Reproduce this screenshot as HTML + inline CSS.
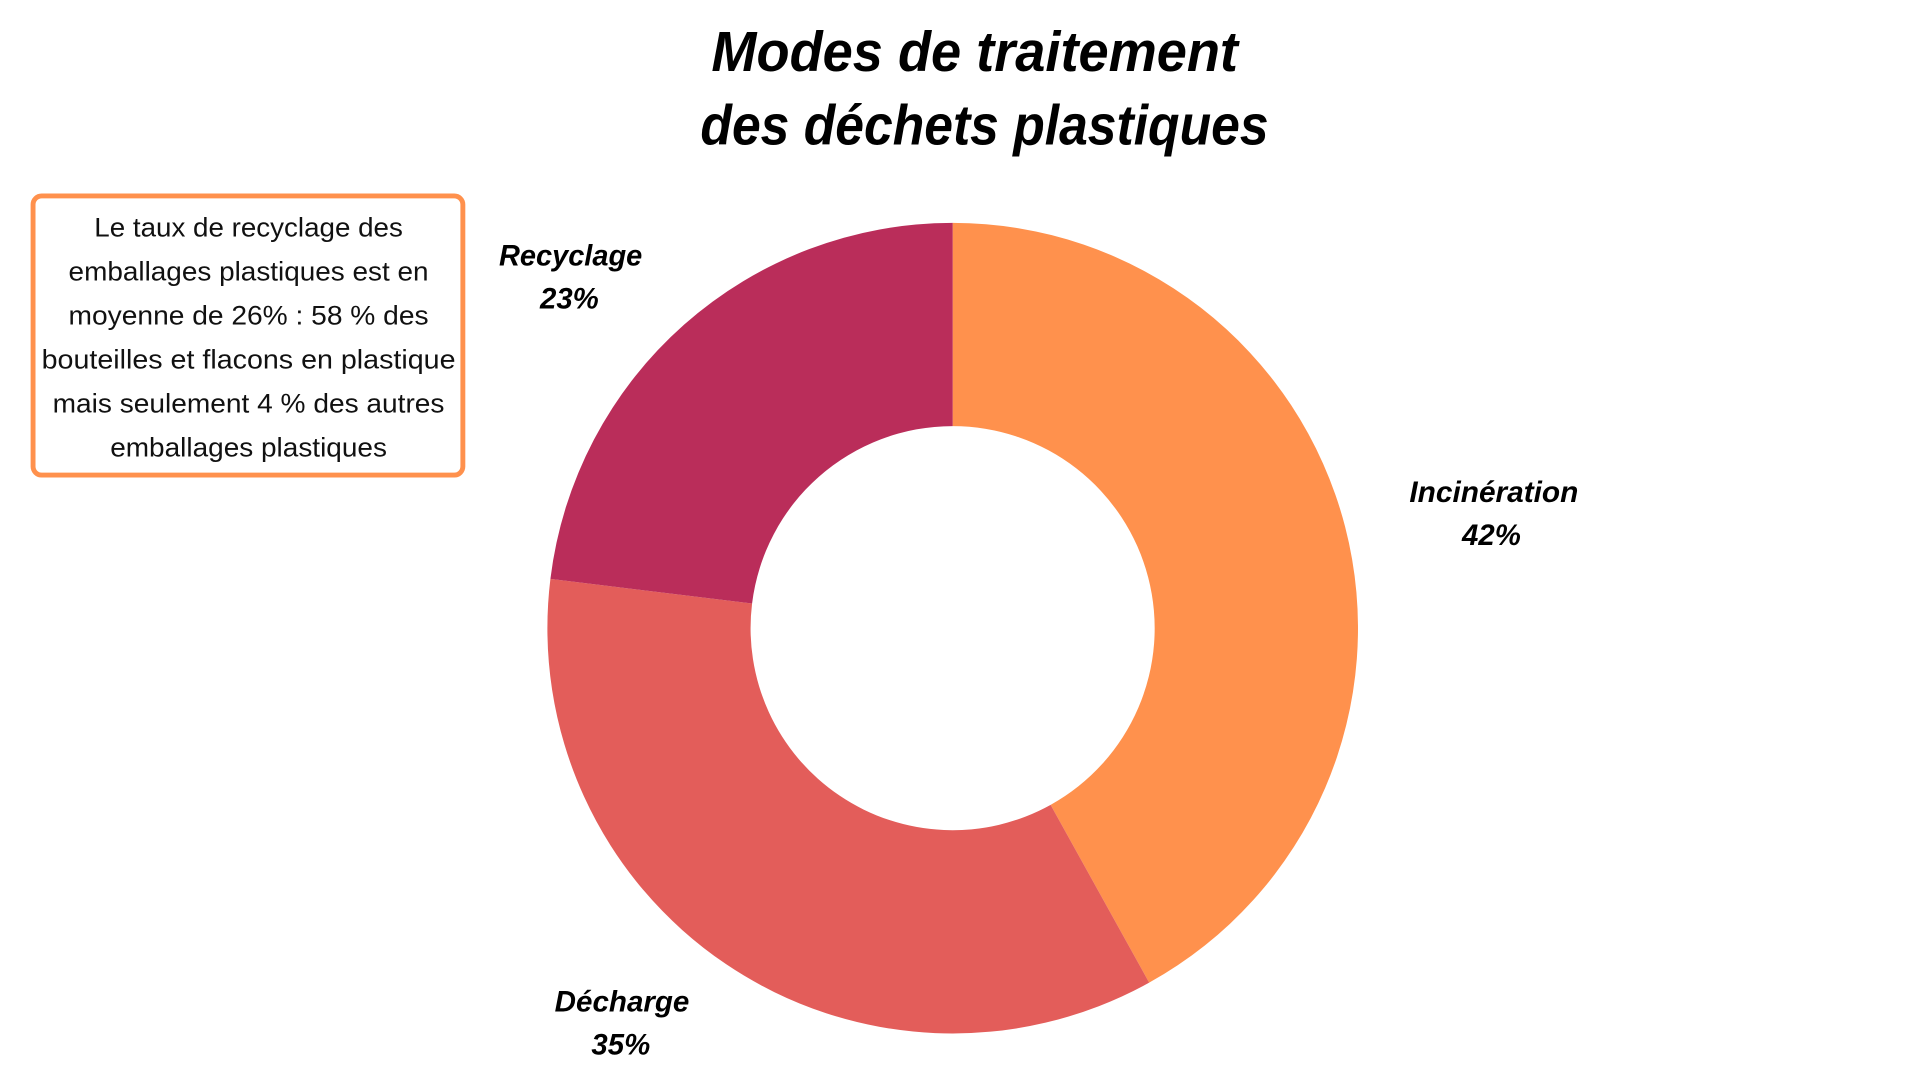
<!DOCTYPE html>
<html><head><meta charset="utf-8"><style>
html,body{margin:0;padding:0;background:#fff;width:1920px;height:1080px;overflow:hidden}
svg{display:block}
.t{font-family:"Liberation Sans",sans-serif;font-weight:bold;font-style:italic;fill:#000}
.b{font-family:"Liberation Sans",sans-serif;fill:#111;font-size:22px}
</style></head><body>
<svg width="1920" height="1080" viewBox="0 0 1568 882" xmlns="http://www.w3.org/2000/svg">
<rect width="1568" height="882" fill="#fff"/>
<text class="t" x="796" y="58" font-size="46" text-anchor="middle" textLength="430" lengthAdjust="spacingAndGlyphs">Modes de traitement</text>
<text class="t" x="804" y="118" font-size="46" text-anchor="middle" textLength="464" lengthAdjust="spacingAndGlyphs">des déchets plastiques</text>
<path d="M778 182 A331 331 0 0 1 938.5 802.5 L858 657.3 A165 165 0 0 0 778 348 Z" fill="#FF914D"/>
<path d="M938.5 802.5 A331 331 0 0 1 449.5 472.7 L614.2 492.9 A165 165 0 0 0 858 657.3 Z" fill="#E35D5A"/>
<path d="M449.5 472.7 A331 331 0 0 1 778 182 L778 348 A165 165 0 0 0 614.2 492.9 Z" fill="#BA2D5A"/>
<rect x="27" y="160" width="351" height="228" rx="7" fill="#fff" stroke="#FF914D" stroke-width="4"/>
<g class="b" text-anchor="middle">
<text x="203" y="193" textLength="252" lengthAdjust="spacingAndGlyphs">Le taux de recyclage des</text>
<text x="203" y="229" textLength="294" lengthAdjust="spacingAndGlyphs">emballages plastiques est en</text>
<text x="203" y="265" textLength="294" lengthAdjust="spacingAndGlyphs">moyenne de 26% : 58 % des</text>
<text x="203" y="301" textLength="338" lengthAdjust="spacingAndGlyphs">bouteilles et flacons en plastique</text>
<text x="203" y="337" textLength="320" lengthAdjust="spacingAndGlyphs">mais seulement 4 % des autres</text>
<text x="203" y="373" textLength="226" lengthAdjust="spacingAndGlyphs">emballages plastiques</text>
</g>
<g class="t" font-size="24" text-anchor="middle">
<text x="466" y="217" textLength="117" lengthAdjust="spacingAndGlyphs">Recyclage</text>
<text x="465" y="252">23%</text>
<text x="1220" y="410" textLength="138" lengthAdjust="spacingAndGlyphs">Incinération</text>
<text x="1218" y="445">42%</text>
<text x="508" y="826" textLength="110" lengthAdjust="spacingAndGlyphs">Décharge</text>
<text x="507" y="861">35%</text>
</g>
</svg>
</body></html>
